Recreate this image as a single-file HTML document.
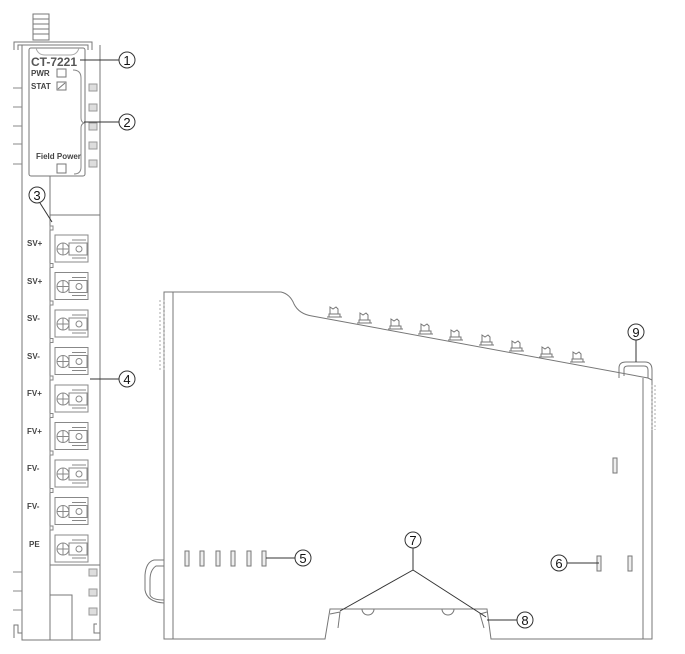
<!DOCTYPE html>
<html><head><meta charset="utf-8"><style>
html,body{margin:0;padding:0;background:#fff;width:685px;height:654px;overflow:hidden}
svg{display:block}
text{font-family:"Liberation Sans",Arial,sans-serif}
</style></head><body>
<svg width="685" height="654" viewBox="0 0 685 654" xmlns="http://www.w3.org/2000/svg">
<defs>
<g id="tab"><path d="M-7 3 H8 M-5 3 V0 H6 V3 M-4 0 V-7 L-1 -5 L2 -7 L4 -5 V0"/></g>
<g id="t"><rect x="50" y="226" width="3" height="4"/><rect x="55" y="235" width="33" height="27"/><circle cx="63" cy="249" r="6"/><line x1="63" y1="243" x2="63" y2="255"/><line x1="57" y1="249" x2="69" y2="249"/><rect x="69" y="243" width="18" height="12"/><circle cx="79" cy="249" r="3"/><line x1="72" y1="240" x2="86" y2="240"/><line x1="72" y1="258" x2="86" y2="258"/></g>
</defs>
<g fill="none" stroke="#777" stroke-width="1">
<!-- LEFT VIEW -->
<rect x="33" y="14" width="16" height="26" fill="#fff"/>
<line x1="33" y1="19" x2="49" y2="19"/><line x1="33" y1="24" x2="49" y2="24"/><line x1="33" y1="29" x2="49" y2="29"/><line x1="33" y1="34" x2="49" y2="34"/>
<path d="M14 50 V42 H92 V50 M18 50 V45 H88 V50"/>
<path d="M22 45 V640 H100 V45"/>
<path d="M14 638 V625 H18 V633 H22 M100 633 H94 V624 H97"/>
<g stroke="#888"><line x1="13" y1="88" x2="22" y2="88"/><line x1="13" y1="107" x2="22" y2="107"/><line x1="13" y1="126" x2="22" y2="126"/><line x1="13" y1="144" x2="22" y2="144"/><line x1="13" y1="164" x2="22" y2="164"/>
<line x1="13" y1="572" x2="22" y2="572"/><line x1="13" y1="591" x2="22" y2="591"/><line x1="13" y1="610" x2="22" y2="610"/></g>
<g stroke="#999" fill="#ddd"><rect x="89" y="84" width="8" height="7"/><rect x="89" y="104" width="8" height="7"/><rect x="89" y="123" width="8" height="7"/><rect x="89" y="142" width="8" height="7"/><rect x="89" y="160" width="8" height="7"/>
<rect x="89" y="569" width="8" height="7"/><rect x="89" y="589" width="8" height="7"/><rect x="89" y="608" width="8" height="7"/></g>
<rect x="29" y="48" width="56" height="128" rx="2" fill="#fff"/>
<path d="M36 48 Q38 55 45 55 H70 Q77 55 79 48" stroke="#aaa"/>
<path d="M73 70 Q81 70 81 78 V118 Q81 122 84 123 Q81 124 81 128 V167 Q81 174 74 174" stroke="#888"/>
<rect x="57" y="69" width="9" height="8"/>
<rect x="57" y="82" width="9" height="8"/><line x1="58" y1="89" x2="65" y2="83"/>
<rect x="57" y="164" width="9" height="9"/>
<path d="M50 215 H100"/>
<line x1="50" y1="176" x2="50" y2="640"/>
<line x1="50" y1="565" x2="100" y2="565"/>
<rect x="50" y="595" width="22" height="45"/>
</g>
<g font-size="8" fill="#444" font-weight="bold">
<text x="31" y="76">PWR</text><text x="31" y="89">STAT</text><text x="36" y="159">Field Power</text>
</g>
<text x="31" y="66" font-size="12" font-weight="bold" fill="#555">CT-7221</text>
<g font-size="8" font-weight="bold" fill="#444">
<text x="27" y="246">SV+</text><text x="27" y="284">SV+</text><text x="27" y="321">SV-</text><text x="27" y="359">SV-</text>
<text x="27" y="396">FV+</text><text x="27" y="434">FV+</text><text x="27" y="471">FV-</text><text x="27" y="509">FV-</text><text x="29" y="547">PE</text>
</g>
<g fill="none" stroke="#888" stroke-width="1">
<use href="#t"/><use href="#t" y="37.5"/><use href="#t" y="75"/><use href="#t" y="112.5"/><use href="#t" y="150"/><use href="#t" y="187.5"/><use href="#t" y="225"/><use href="#t" y="262.5"/><use href="#t" y="300"/>
</g>
<g stroke="#333" fill="#fff" stroke-width="1">
<line x1="80" y1="60" x2="119" y2="60"/><line x1="84" y1="122" x2="119" y2="122"/><line x1="40" y1="203" x2="52" y2="222"/><line x1="90" y1="379" x2="119" y2="379"/>
<circle cx="127" cy="60" r="8"/><circle cx="127" cy="122" r="8"/><circle cx="37" cy="195" r="8"/><circle cx="127" cy="379" r="8"/>
</g>
<g font-size="13" fill="#111" text-anchor="middle">
<text x="127" y="65">1</text><text x="127" y="127">2</text><text x="37" y="200">3</text><text x="127" y="384">4</text>
</g>
<!-- SIDE VIEW -->
<g fill="none" stroke="#777" stroke-width="1">
<path d="M164 639 V292 H281 Q290 294 294 304 Q299 314 312 316 L648 378 L652 380 V639 H491 L487 609 H330 L325 639 Z"/>
<line x1="173" y1="292" x2="173" y2="639"/>
<line x1="643" y1="378" x2="643" y2="639"/>
<path d="M164 300 V370 M160 300 V370" stroke="#aaa" stroke-dasharray="2,2"/>
<path d="M652 385 V430 M655 385 V430" stroke="#aaa" stroke-dasharray="2,2"/>
<path d="M164 560 H154 Q146 562 145 575 V590 Q147 602 164 603"/>
<path d="M164 566 H156 Q150 570 150 580 V595 Q152 600 164 600"/>
<path d="M619 378 V368 Q619 362 626 362 H645 Q652 362 652 370 V380"/>
<path d="M624 376 V369 Q624 366 628 366 H644 Q648 366 648 370 V378"/>
<path d="M362 609 A6 6 0 0 0 374 609 M442 609 A6 6 0 0 0 454 609"/>
<path d="M330 614 L340 612 L338 628 M487 612 L480 614 L484 628"/>
<g fill="#eee"><rect x="185" y="551" width="4" height="15"/><rect x="200" y="551" width="4" height="15"/><rect x="216" y="551" width="4" height="15"/><rect x="231" y="551" width="4" height="15"/><rect x="247" y="551" width="4" height="15"/><rect x="262" y="551" width="4" height="15"/>
<rect x="597" y="556" width="4" height="15"/><rect x="628" y="556" width="4" height="15"/><rect x="613" y="458" width="4" height="15"/></g>
<use href="#tab" x="334" y="314"/><use href="#tab" x="364" y="320"/><use href="#tab" x="395" y="326"/><use href="#tab" x="425" y="331"/><use href="#tab" x="455" y="337"/><use href="#tab" x="486" y="342"/><use href="#tab" x="516" y="348"/><use href="#tab" x="546" y="354"/><use href="#tab" x="577" y="359"/>
</g>
<g stroke="#333" fill="#fff">
<line x1="266" y1="558" x2="295" y2="558"/>
<line x1="567" y1="563" x2="599" y2="563"/>
<path d="M413 548 V570 L340 611 M413 570 L486 617" fill="none"/>
<line x1="487" y1="620" x2="517" y2="620"/>
<line x1="636" y1="340" x2="636" y2="362"/>
<circle cx="303" cy="558" r="8"/><circle cx="559" cy="563" r="8"/><circle cx="413" cy="540" r="8"/><circle cx="525" cy="620" r="8"/><circle cx="636" cy="332" r="8"/>
</g>
<g font-size="13" fill="#111" text-anchor="middle">
<text x="303" y="563">5</text><text x="559" y="568">6</text><text x="413" y="545">7</text><text x="525" y="625">8</text><text x="636" y="337">9</text>
</g>
</svg>
</body></html>
